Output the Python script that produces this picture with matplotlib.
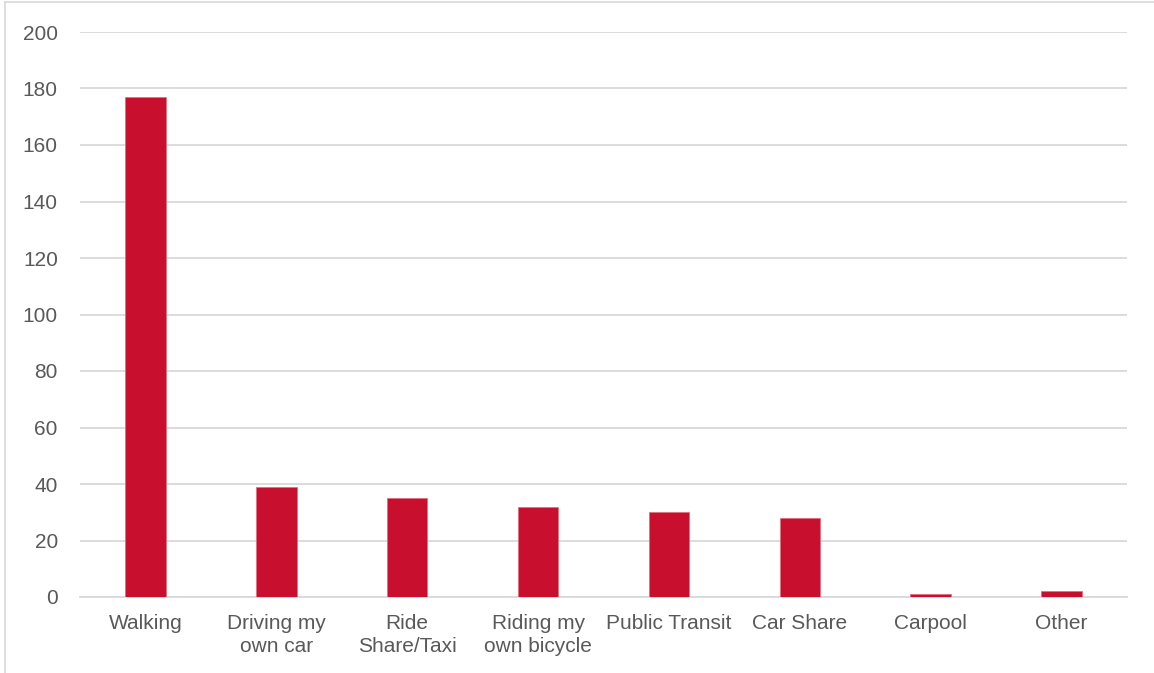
import matplotlib
matplotlib.use("Agg")
import matplotlib.pyplot as plt
from matplotlib.lines import Line2D

categories = ["Walking", "Driving my\nown car", "Ride\nShare/Taxi", "Riding my\nown bicycle",
              "Public Transit", "Car Share", "Carpool", "Other"]
values = [177, 39, 35, 32, 30, 28, 1, 2]
yticks = [0, 20, 40, 60, 80, 100, 120, 140, 160, 180, 200]

plt.rcParams['font.family'] = ['Liberation Sans', 'DejaVu Sans']

fig = plt.figure(figsize=(11.54, 6.73), dpi=100)
ax = fig.add_axes([80/1154, 1-597/673, (1127-80)/1154, (597-32)/673])

x = range(len(categories))
ax.bar(x, values, width=0.31, color='#C8102E', edgecolor='#E07080', linewidth=0.6, zorder=3)
ax.set_xlim(-0.5, len(categories)-0.5)
ax.set_ylim(0, 200)
ax.set_yticks(yticks)
ax.yaxis.grid(True, color='#D9D9D9', linewidth=1.3, zorder=0)
ax.set_xticks(list(x))
ax.set_xticklabels(categories, fontsize=15, color='#595959', linespacing=1.3)
ax.tick_params(axis='y', labelsize=15, labelcolor='#595959', length=0, pad=16)
ax.tick_params(axis='x', length=0, pad=12)
for s in ['top', 'right', 'left']:
    ax.spines[s].set_visible(False)
ax.spines['bottom'].set_color('#D9D9D9')
ax.spines['bottom'].set_linewidth(1.3)

border = dict(transform=fig.transFigure, color='#D9D9D9', linewidth=1.2)
fig.lines.append(Line2D([5/1154, 5/1154], [0, 1-2/673], **border))
fig.lines.append(Line2D([5/1154, 1], [1-2/673, 1-2/673], **border))

fig.savefig("out.png", dpi=100)
